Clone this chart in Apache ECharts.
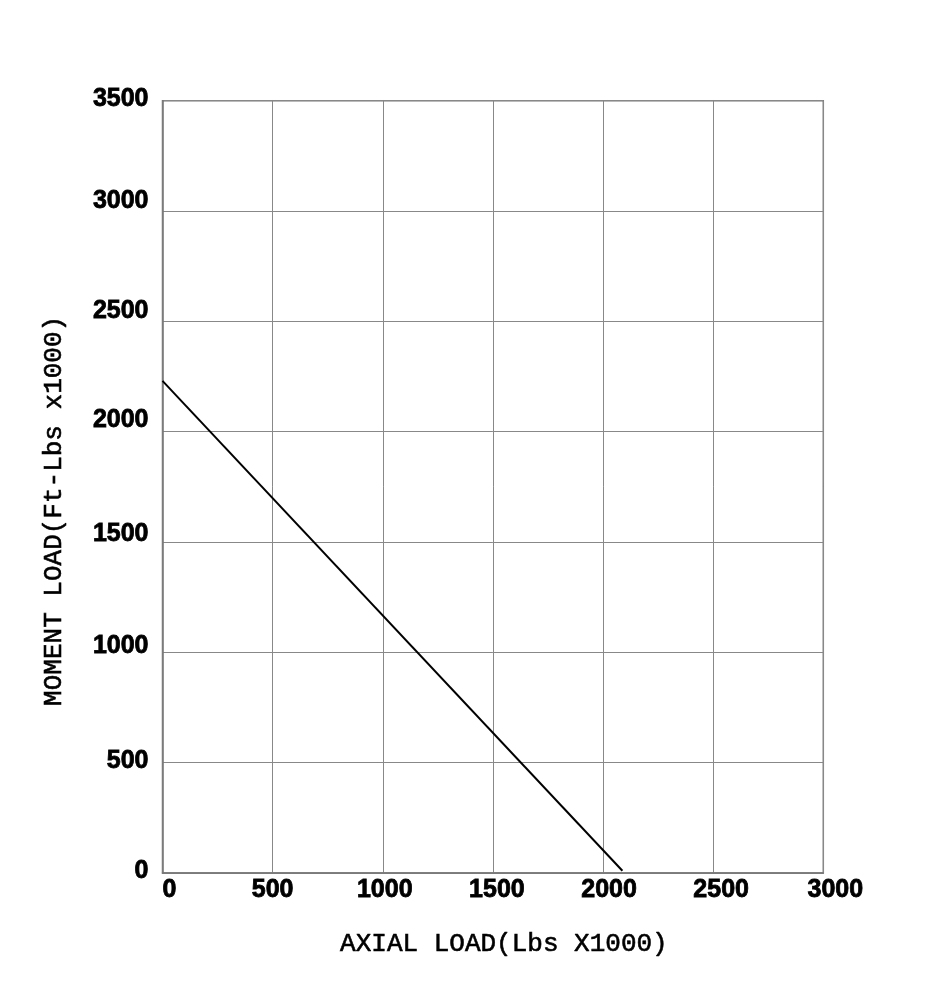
<!DOCTYPE html>
<html>
<head>
<meta charset="utf-8">
<script src="https://cdn.jsdelivr.net/npm/echarts@6/dist/echarts.min.js"></script>
<style>html,body{margin:0;padding:0;background:#fff;}#c{width:931px;height:996px;}</style>
</head>
<body>
<div id="c"></div>
<script>
// Data
var xTicks = [0, 500, 1000, 1500, 2000, 2500, 3000];
var yTicks = [0, 500, 1000, 1500, 2000, 2500, 3000, 3500];
var lineX = [0, 2088];
var lineY = [2230, 10];
var xName = 'AXIAL LOAD(Lbs X1000)';
var yName = 'MOMENT LOAD(Ft-Lbs x1000)';

// Style: per-label small position nudges (pixels)
var xLabelShift = [7, 0, 2, 4, 6, 8, 12];
var yLabelShift = [2, 2, 6, 8, 12, 10, 10, 2];
var labelFont = '"Liberation Sans", Arial';

var xRich = {}, yRich = {};
xTicks.forEach(function (t, i) {
  var s = xLabelShift[i];
  xRich['x' + i] = { fontFamily: labelFont, fontWeight: 'bold', fontSize: 25, color: '#000',
    textBorderColor: '#000', textBorderWidth: 0.8, padding: [0, 0, 0, 2 * s] };
});
yTicks.forEach(function (t, i) {
  var s = yLabelShift[i];
  yRich['y' + i] = { fontFamily: labelFont, fontWeight: 'bold', fontSize: 25, color: '#000',
    textBorderColor: '#000', textBorderWidth: 0.8, padding: [0, 0, 2 * s, 0] };
});

var nameStyle = { fontFamily: 'Liberation Mono', fontSize: 26, color: '#000', textBorderColor: '#000', textBorderWidth: 0.6 };

var chart = echarts.init(document.getElementById('c'), null, { renderer: 'canvas' });
chart.setOption({
  backgroundColor: '#fff',
  animation: false,
  grid: { left: 162.5, right: 107.7, top: 100.7, bottom: 123, containLabel: false,
          show: true, borderColor: '#777', borderWidth: 1.5 },
  xAxis: {
    type: 'value', min: 0, max: 3000, interval: 500,
    name: xName, nameLocation: 'middle', nameGap: 58,
    nameTextStyle: Object.assign({ padding: [0, 0, 0, 22] }, nameStyle),
    axisLine: { show: true, lineStyle: { color: '#777', width: 1.5 } },
    axisTick: { show: false },
    splitLine: { show: true, lineStyle: { color: '#888', width: 1 } },
    axisLabel: {
      margin: 5,
      formatter: function (v) { var i = xTicks.indexOf(v); return '{x' + i + '|' + v + '}'; },
      rich: xRich
    }
  },
  yAxis: {
    type: 'value', min: 0, max: 3500, interval: 500,
    name: yName, nameLocation: 'middle', nameGap: 95, nameRotate: 90,
    nameTextStyle: Object.assign({ padding: [0, 48, 0, 0] }, nameStyle),
    axisLine: { show: true, lineStyle: { color: '#777', width: 1.5 } },
    axisTick: { show: false },
    splitLine: { show: true, lineStyle: { color: '#888', width: 1 } },
    axisLabel: {
      margin: 14,
      formatter: function (v) { var i = yTicks.indexOf(v); return '{y' + i + '|' + v + '}'; },
      rich: yRich
    }
  },
  series: [{
    type: 'line',
    data: lineX.map(function (x, i) { return [x, lineY[i]]; }),
    symbol: 'none',
    lineStyle: { color: '#000', width: 2 }
  }]
});
</script>
</body>
</html>
